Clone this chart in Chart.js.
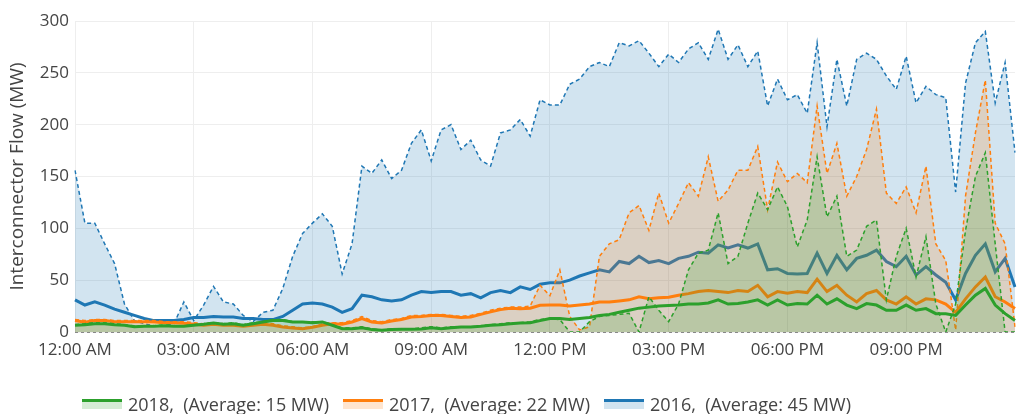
<!DOCTYPE html>
<html>
<head>
<meta charset="utf-8">
<script src="https://cdn.jsdelivr.net/npm/chart.js@4.4.1/dist/chart.umd.min.js"></script>
<style>
  body { margin: 0; background: #fff; font-family: "Open Sans", sans-serif; }
  #wrap { position: relative; width: 1017px; height: 414px; }
  #legend { position: absolute; left: 82px; top: 392px; display: flex; align-items: center; color: #444; font-size: 18px; white-space: pre; }
  .item { display: flex; align-items: center; margin-right: 14px; }
  .sw { width: 40px; height: 10px; margin-right: 6px; box-sizing: border-box; border-top: 3px solid; }
</style>
</head>
<body>
<div id="wrap">
  <canvas id="flowChart" width="1017" height="414"></canvas>
  <div id="legend"></div>
</div>
<script>
// 15-minute steps over one day
const timeLabels = [];
for (let i = 0; i < 96; i++) {
  const h = Math.floor(i / 4), m = (i % 4) * 15;
  const h12 = h % 12 === 0 ? 12 : h % 12;
  timeLabels.push(String(h12).padStart(2, '0') + ':' + String(m).padStart(2, '0') + (h < 12 ? ' AM' : ' PM'));
}

const years = ['2018', '2017', '2016'];
const averages = [15, 22, 45];

// dashed series (filled)
const max2016 = [156,105,105,85,66,27,11,8,6,6,8,29,11,26,44,29,27,16,10,19,21,42,73,95,105,
  114,102,56,85,160,153,166,148,156,182,195,165,195,200,176,185,166,160,192,195,205,189,224,219,
  219,239,244,256,260,256,279,276,281,269,256,268,260,273,279,263,292,263,277,256,271,218,244,224,
  229,211,279,198,263,218,263,269,263,247,234,266,221,237,229,226,135,240,279,290,221,260,173];
const max2017 = [12,11,12,12,11,11,11,11,11,10,10,10,9,8,9,8,8,7,8,9,8,6,5,4,5,
  8,9,9,11,15,11,10,12,13,16,16,17,17,16,15,16,18,21,23,24,24,25,45,35,
  60,15,2,5,73,85,89,115,122,98,134,105,124,144,131,169,126,137,156,156,179,118,164,145,
  153,144,218,153,182,131,150,176,215,134,124,140,115,160,85,69,2,131,192,243,105,85,5];
const max2018 = [7,8,9,9,8,7,6,6,6,7,6,6,7,8,9,8,9,7,9,10,12,12,10,10,10,
  10,7,4,4,5,3,2,3,3,3,4,5,4,5,5,5,6,7,8,9,9,10,12,13,
  12,0,0,10,15,16,17,18,0,34,21,10,27,60,76,79,115,66,73,105,134,118,140,121,
  82,108,169,111,131,73,79,102,108,31,73,100,53,92,27,0,27,98,150,173,85,0,0];

// solid series (average)
const avg2016 = [31,26,29,26,22,19,16,13,11,11,11,12,14,14,15,14.5,14.5,13,13,12,12,15,21,27,28,
  27,24,19,22.5,35.5,34,31,30,31,35.5,39,38,39,39,35.5,37,33,38,40,38,43.5,41,46,47.4,
  47.4,50,54,57,60,58,68,66,73,67,69,66,71,73,77,76,84,81,84,81,85,60,61,56.5,
  56,56.5,76,56.5,74,60,71,74,79,68,63,73,55,63,55,48,31,56.5,74,85,58,71,43.5];
const avg2017 = [11,9.5,11,11,10,10,10,10,9.7,9,9,8.5,7.4,6.5,7.4,6.5,6.5,5.5,6.5,7.4,6.5,4.8,3.9,3.2,4.5,
  6.5,8,7.4,9.7,13,9.7,8.7,10.6,12,14.5,15,16,16,15,14,14.5,17,19.4,21.6,23,22.5,23,25.8,26,
  26,25,26,27,29,29,30,31,34,32,33,33.5,35.5,37,39,40,39,38,40,39,45,34,39,37.5,
  39,38,51,39,45,35.5,29,37,40,31,27,34,27,32,31,27,19,32,43.5,53,34,29,22.6];
const avg2018 = [6.5,7,8,8,7,6.5,5,5.5,5.5,6,5.5,5.5,6.5,7.4,8.7,7.4,8,6.5,8,9.7,11,11,9.7,9.7,9,
  9.7,6.5,3.2,3.2,4,2.3,1.6,2.3,2.6,2.6,3,4,3.2,4,4.8,4.8,5.5,6.5,7,8,8.7,9,11,13,
  13,12,13,14,16,17,19,21,23,24,25,25.5,26,27,27,28,31,27,27.5,29,31,26,31,26,
  27.4,27,35.5,27,32,26,22.6,27.4,26,21,21,26,21,22.6,17.7,17.7,16,26,35.5,42,26,17.7,11];

const hourTicks = ['12:00 AM', '03:00 AM', '06:00 AM', '09:00 AM', '12:00 PM', '03:00 PM', '06:00 PM', '09:00 PM'];

const colors = { '2018': '44,160,44', '2017': '255,127,14', '2016': '31,119,180' };

function avgSet(year, data, order) {
  return {
    label: year + ' avg', data, order,
    borderColor: 'rgb(' + colors[year] + ')', borderWidth: 3,
    pointRadius: 0, fill: false, tension: 0
  };
}
function maxSet(year, data, order) {
  return {
    label: year, data, order,
    borderColor: 'rgb(' + colors[year] + ')', borderWidth: 1.5, borderDash: [4, 3],
    backgroundColor: 'rgba(' + colors[year] + ',0.2)',
    pointRadius: 0, fill: 'origin', tension: 0
  };
}

// dashed gray line along zero
const zeroLine = {
  id: 'zeroLine',
  afterDatasetsDraw(chart) {
    const { ctx, chartArea, scales } = chart;
    const y = Math.round(scales.y.getPixelForValue(0)) + 0.5;
    ctx.save();
    ctx.strokeStyle = '#888';
    ctx.lineWidth = 1;
    ctx.setLineDash([3, 3]);
    ctx.beginPath();
    ctx.moveTo(chartArea.left, y);
    ctx.lineTo(chartArea.right, y);
    ctx.stroke();
    ctx.restore();
  }
};

new Chart(document.getElementById('flowChart').getContext('2d'), {
  type: 'line',
  data: {
    labels: timeLabels,
    datasets: [
      avgSet('2016', avg2016, 6), maxSet('2016', max2016, 5),
      avgSet('2017', avg2017, 4), maxSet('2017', max2017, 3),
      avgSet('2018', avg2018, 2), maxSet('2018', max2018, 1)
    ]
  },
  options: {
    responsive: false,
    animation: false,
    devicePixelRatio: 1,
    layout: { padding: { top: 21, right: 2, bottom: 50, left: 0 } },
    plugins: { legend: { display: false }, tooltip: { enabled: false } },
    scales: {
      x: {
        type: 'category',
        afterBuildTicks: s => { s.ticks = s.ticks.filter(t => t.value % 12 === 0); },
        afterFit: s => { s.height = 32; },
        ticks: {
          autoSkip: false, maxRotation: 0, padding: 8,
          color: '#444', font: { family: 'Open Sans', size: 17 },
          callback: (v, i) => hourTicks[v / 12]
        },
        grid: { color: '#eee', drawTicks: false },
        border: { display: false }
      },
      y: {
        min: 0, max: 300,
        afterFit: s => { s.width = 75; },
        ticks: { stepSize: 50, padding: 6, color: '#444', font: { family: 'Open Sans', size: 17 } },
        grid: { color: '#eee', drawTicks: false },
        border: { display: false },
        title: {
          display: true, text: 'Interconnector Flow (MW)', color: '#444',
          font: { family: 'Open Sans', size: 19 }, padding: { top: 6, bottom: 0 }
        }
      }
    }
  },
  plugins: [zeroLine]
});

// legend
const legend = document.getElementById('legend');
years.forEach((y, i) => {
  const item = document.createElement('div');
  item.className = 'item';
  const sw = document.createElement('div');
  sw.className = 'sw';
  sw.style.borderTopColor = 'rgb(' + colors[y] + ')';
  sw.style.background = 'rgba(' + colors[y] + ',0.2)';
  const txt = document.createElement('span');
  txt.textContent = y + ',  (Average: ' + averages[i] + ' MW)';
  item.appendChild(sw);
  item.appendChild(txt);
  legend.appendChild(item);
});
</script>
</body>
</html>
